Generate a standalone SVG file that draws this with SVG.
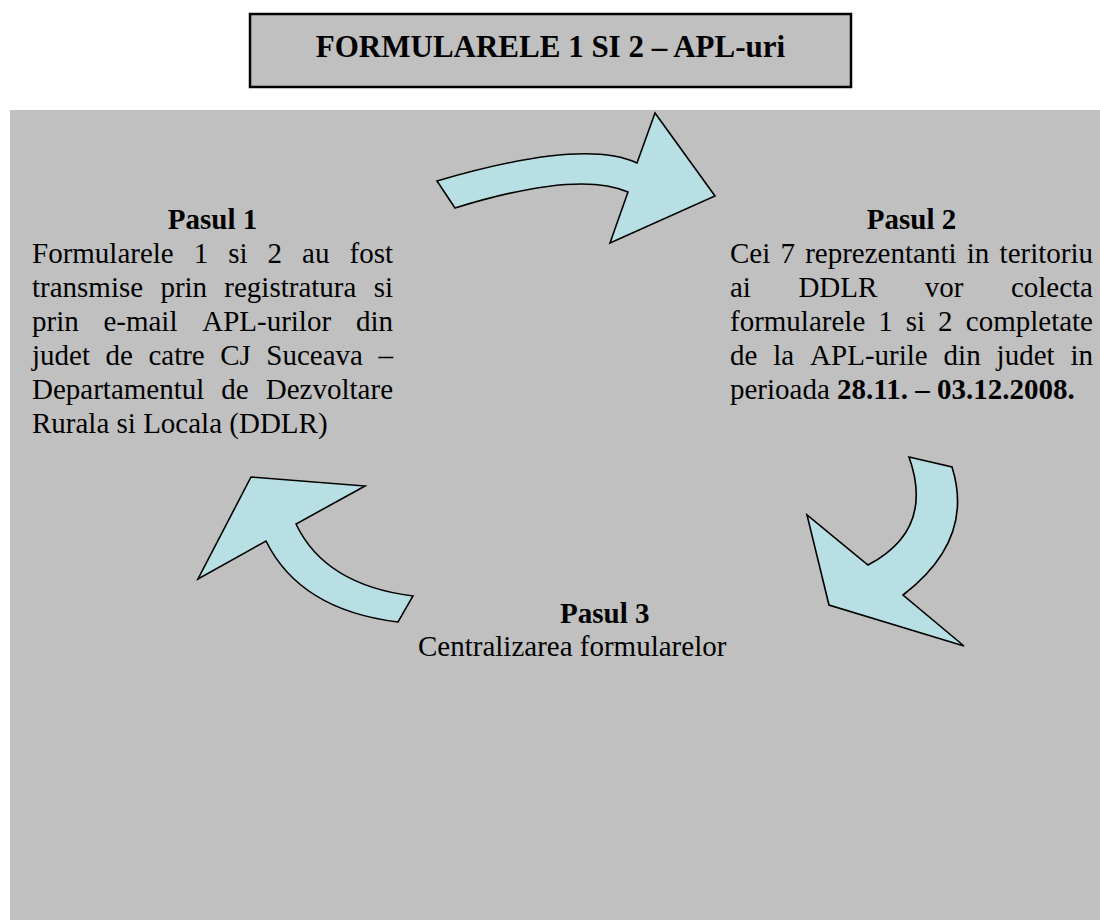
<svg xmlns="http://www.w3.org/2000/svg" width="1100" height="920" viewBox="0 0 1100 920">
<style>
.t{font-family:"Liberation Serif","Times New Roman",serif;font-size:29px;fill:#000}
.b{font-weight:bold}
.e{text-anchor:end}
.m{text-anchor:middle}
.arrow{fill:#b8dfe3;stroke:#000;stroke-width:1.6;stroke-linejoin:miter}
</style>
<rect x="0" y="0" width="1100" height="920" fill="#ffffff"/>
<rect id="panel" x="10" y="110" width="1090" height="810" fill="#c0c0c0"/>
<g id="title">
<rect x="250" y="14" width="601" height="73" fill="#c0c0c0" stroke="#000" stroke-width="2.5"/>
<text class="t b m" x="550.5" y="57" style="font-size:31px">FORMULARELE 1 SI 2 – APL-uri</text>
</g>
<g id="connectors">
<path class="arrow" d="M437,181 Q583,138 637,163 L655,113 L715,196 L610,243 L628,192 Q578,170 455,208 Z"/>
<path class="arrow" d="M909,457 L952,467 Q975,540 903,595 L964,646 L829,605 L807,515 L868,565 Q935,530 909,457 Z"/>
<path class="arrow" d="M251,477 L365,486 L296,524 Q325,585 413,596 L398,622 Q300,610 266,541 L198,579 Z"/>
</g>
<g id="pasul1">
<text class="t b m" x="212.5" y="229">Pasul 1</text>
<text class="t" y="263"><tspan x="32">Formularele</tspan><tspan x="193.8">1</tspan><tspan x="228.3">si</tspan><tspan x="267.6">2</tspan><tspan x="302.1">au</tspan></text>
<text class="t e" x="393" y="263">fost</text>
<text class="t" y="297"><tspan x="32">transmise</tspan><tspan x="160.4">prin</tspan><tspan x="224.3">registratura</tspan></text>
<text class="t e" x="393" y="297">si</text>
<text class="t" y="331"><tspan x="32">prin</tspan><tspan x="103.4">e-mail</tspan><tspan x="202.2">APL-urilor</tspan></text>
<text class="t e" x="393" y="331">din</text>
<text class="t" y="365"><tspan x="32">judet</tspan><tspan x="105.5">de</tspan><tspan x="148.4">catre</tspan><tspan x="220.2">CJ</tspan><tspan x="266.3">Suceava</tspan></text>
<text class="t e" x="393" y="365">–</text>
<text class="t" y="399"><tspan x="32">Departamentul</tspan><tspan x="221.3">de</tspan></text>
<text class="t e" x="393" y="399">Dezvoltare</text>
<text class="t" x="32" y="433">Rurala si Locala (DDLR)</text>
</g>
<g id="pasul2">
<text class="t b m" x="911.5" y="229">Pasul 2</text>
<text class="t" y="263"><tspan x="730">Cei</tspan><tspan x="780.5">7</tspan><tspan x="805.2">reprezentanti</tspan><tspan x="966.8">in</tspan></text>
<text class="t e" x="1093" y="263">teritoriu</text>
<text class="t" y="297"><tspan x="730">ai</tspan><tspan x="798.4">DDLR</tspan><tspan x="924.8">vor</tspan></text>
<text class="t e" x="1093" y="297">colecta</text>
<text class="t" y="331"><tspan x="730">formularele</tspan><tspan x="878.3">1</tspan><tspan x="905.8">si</tspan><tspan x="938.1">2</tspan></text>
<text class="t e" x="1093" y="331">completate</text>
<text class="t" y="365"><tspan x="730">de</tspan><tspan x="773.3">la</tspan><tspan x="810.1">APL-urile</tspan><tspan x="943.6">din</tspan><tspan x="996.6">judet</tspan></text>
<text class="t e" x="1093" y="365">in</text>
<text class="t" x="730" y="399">perioada <tspan class="b">28.11. – 03.12.2008.</tspan></text>
</g>
<g id="pasul3">
<text class="t b" x="560" y="623">Pasul 3</text>
<text class="t" x="418" y="656">Centralizarea formularelor</text>
</g>
</svg>
